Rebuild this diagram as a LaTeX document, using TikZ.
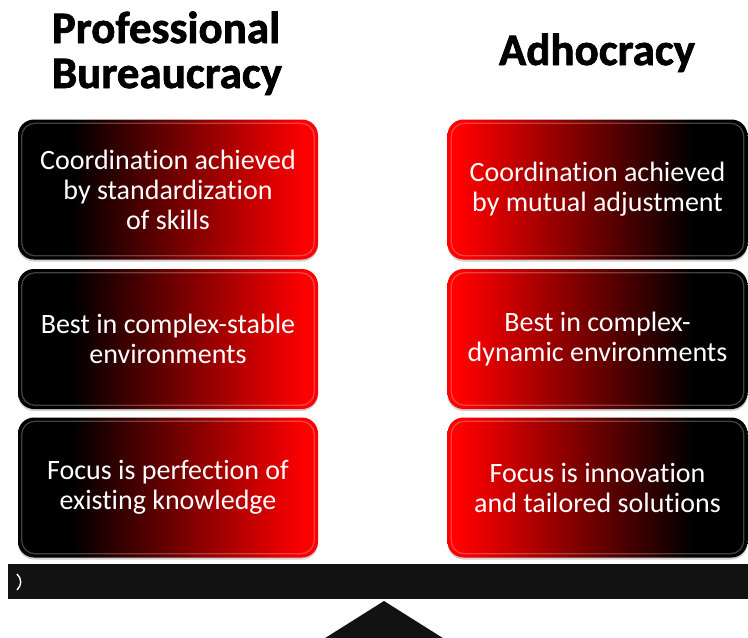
\documentclass[tikz,border=0pt]{standalone}
\usepackage{fontspec}
\setmainfont{Carlito}[Ligatures=NoCommon]
\newfontfamily\heavyfont{Carlito}[Ligatures=NoCommon, BoldFeatures={FakeBold=1.6}]
\usetikzlibrary{shadows}
\pgfdeclarehorizontalshading{lshade}{100bp}{color(0bp)=(black); color(34bp)=(black); color(73bp)=(red); color(100bp)=(red)}
\pgfdeclarehorizontalshading{rshade}{100bp}{color(0bp)=(red); color(27bp)=(red); color(66bp)=(black); color(100bp)=(black)}
\definecolor{barc}{HTML}{121212}
\tikzset{
  boxbase/.style={shade, rounded corners=16pt, minimum width=300pt, minimum height=140pt,
    inner sep=0pt, text=white, align=center, font=\fontsize{28}{30}\selectfont,
    general shadow={fill=gray!60, shadow yshift=-2pt, opacity=.6}},
  lbox/.style={boxbase, shading=lshade},
  rbox/.style={boxbase, shading=rshade},
  ttl/.style={font=\fontsize{45}{45}\selectfont\heavyfont\bfseries, anchor=base, inner sep=0pt},
  bevel/.style={white, opacity=.25, line width=1.3pt, rounded corners=13pt},
  barbox/.style={fill=barc, minimum width=740pt, minimum height=35pt, inner sep=0pt},
}
\begin{document}
\begin{tikzpicture}[x=1pt,y=-1pt]
\useasboundingbox (0,0) rectangle (748,638);
% titles
\node[ttl] (t1) at (166,43) {Professional};
\node[ttl] (t2) at (167,88) {Bureaucracy};
\node[ttl] (t3) at (597,65) {Adhocracy};
% left column
\node[lbox] (l1) at (168,189.5) {Coordination achieved\\by standardization\\of skills};
\node[lbox] (l2) at (168,339) {Best in complex-stable\\environments};
\node[lbox] (l3) at (168,487.5) {Focus is perfection of\\existing knowledge};
% right column
\node[rbox] (r1) at (597.5,189.5) {Coordination achieved\\by mutual adjustment};
\node[rbox] (r2) at (597.5,339) {Best in complex-\\dynamic environments};
\node[rbox] (r3) at (597.5,487.5) {Focus is innovation\\and tailored solutions};
\foreach \b in {l1,l2,l3,r1,r2,r3}{
  \draw[bevel] ([shift={(4,4)}]\b.north west) rectangle ([shift={(-4,-4)}]\b.south east);
}
% lever bar
\node[barbox] (bar) at (378,581.5) {};
\draw[white, line width=1.4pt] (17,574) .. controls (22,579) and (22,585) .. (17,590);
% fulcrum
\fill[barc] (384,601) -- (322,640) -- (446,640) -- cycle;
\end{tikzpicture}
\end{document}
